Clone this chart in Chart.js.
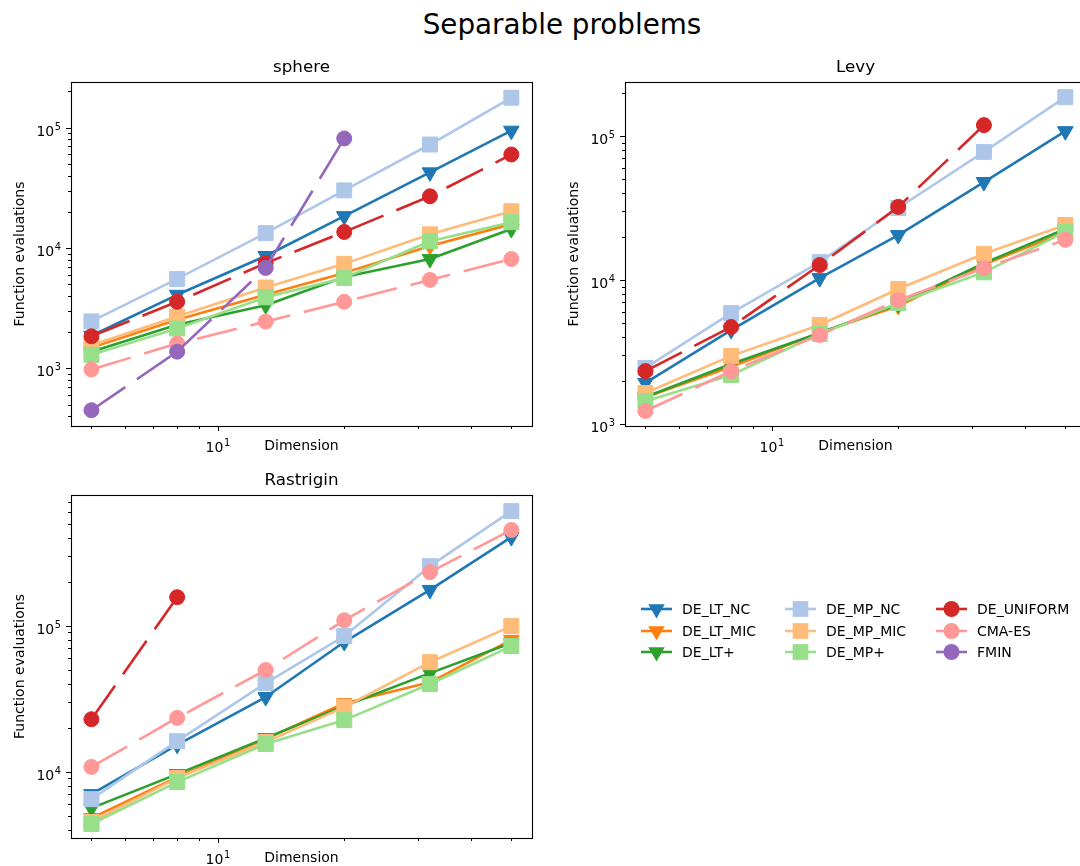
<!DOCTYPE html>
<html>
<head>
<meta charset="utf-8">
<script src="https://cdn.jsdelivr.net/npm/chart.js@4.4.1/dist/chart.umd.min.js"></script>
<style>
  html, body { margin: 0; padding: 0; background: #fff; }
  #fig { position: relative; width: 1080px; height: 866px; overflow: hidden; background: #fff; }
  #fig canvas { position: absolute; }
  #suptitle {
    position: absolute; left: 562px; top: 11px; transform: translateX(-50%);
    font: 27.8px "DejaVu Sans", sans-serif; line-height: 1; white-space: nowrap; color: #000;
  }
</style>
</head>
<body>
<div id="fig">
  <div id="suptitle">Separable problems</div>
  <canvas id="sphere" width="540" height="414" style="left:0;top:52px"></canvas>
  <canvas id="levy" width="540" height="414" style="left:554px;top:52px"></canvas>
  <canvas id="rastrigin" width="1080" height="413" style="left:0;top:465px"></canvas>
</div>
<script>
// x values (problem dimension)
const dims = [5, 8, 13, 20, 32, 50];
const methods = ["DE_LT_NC", "DE_LT_MIC", "DE_LT+", "DE_MP_NC", "DE_MP_MIC", "DE_MP+", "DE_UNIFORM", "CMA-ES", "FMIN"];

// sphere
const sphereLtNc = [1870, 4090, 8590, 18400, 42500, 94300];
const sphereLtMic = [1490, 2540, 4090, 6220, 10400, 15800];
const sphereLtPlus = [1380, 2310, 3350, 5760, 8100, 14400];
const sphereMpNc = [2460, 5540, 13300, 30100, 72400, 177000];
const sphereMpMic = [1560, 2700, 4700, 7390, 13000, 20200];
const sphereMpPlus = [1300, 2150, 3900, 5650, 11400, 16400];
const sphereUniform = [1850, 3580, 7500, 13600, 26900, 59800];
const sphereCma = [981, 1610, 2450, 3580, 5440, 8120];
const sphereFmin = [450, 1380, 6840, 81300];

// Levy
const levyLtNc = [1930, 4490, 10300, 20500, 47900, 108000];
const levyLtMic = [1530, 2500, 4300, 6600, 12800, 21500];
const levyLtPlus = [1540, 2610, 4290, 6820, 13100, 22600];
const levyMpNc = [2450, 5890, 13300, 31600, 77500, 186000];
const levyMpMic = [1640, 2970, 4870, 8660, 15200, 24100];
const levyMpPlus = [1440, 2190, 4220, 6920, 11300, 21600];
const levyUniform = [2330, 4720, 12700, 32200, 119000];
const levyCma = [1230, 2330, 4150, 7240, 12100, 19000];
const levyFmin = [];

// Rastrigin
const rastLtNc = [7030, 15300, 32500, 77400, 176000, 405000];
const rastLtMic = [4820, 9200, 16800, 29500, 41000, 80000];
const rastLtPlus = [5640, 9640, 17000, 28200, 47400, 76200];
const rastMpNc = [6500, 16200, 40500, 85000, 256000, 610000];
const rastMpMic = [4530, 9060, 16000, 27700, 56300, 99500];
const rastMpPlus = [4390, 8500, 15500, 22600, 39900, 72600];
const rastUniform = [22900, 157000];
const rastCma = [10800, 23400, 49800, 109000, 233000, 453000];
const rastFmin = [];

// tick labels (powers of ten)
const xTickValues = [10];
const yTickValues = [1e3, 1e4, 1e5];

const FONT = "'DejaVu Sans', sans-serif";
Chart.defaults.font.family = FONT;
Chart.defaults.color = "#000";

const DASH = [41, 14];
const styles = [
  { color: "#1f77b4", shape: "triangle", dash: [] },
  { color: "#ff7f0e", shape: "triangle", dash: [] },
  { color: "#2ca02c", shape: "triangle", dash: [] },
  { color: "#aec7e8", shape: "rect", dash: [] },
  { color: "#ffbb78", shape: "rect", dash: [] },
  { color: "#98df8a", shape: "rect", dash: [] },
  { color: "#d62728", shape: "circle", dash: DASH },
  { color: "#ff9896", shape: "circle", dash: DASH },
  { color: "#9467bd", shape: "circle", dash: DASH },
];
const RADIUS = { triangle: 9, rect: 10.6, circle: 7.5 };

function makeSets(series) {
  return series.map((vals, i) => {
    const st = styles[i];
    return {
      label: methods[i],
      data: vals.map((v, k) => ({ x: dims[k], y: v })),
      borderColor: st.color,
      backgroundColor: st.color,
      borderWidth: 2.6,
      borderDash: st.dash,
      borderJoinStyle: "round",
      pointStyle: st.shape,
      pointRotation: st.shape === "triangle" ? 180 : 0,
      pointRadius: RADIUS[st.shape],
      pointHoverRadius: RADIUS[st.shape],
      pointBorderWidth: 1,
      pointBorderColor: st.color,
      pointBackgroundColor: st.color,
      tension: 0,
      fill: false,
      order: 20 - i,
    };
  });
}

function logTicks(min, max) {
  const out = [];
  for (let e = Math.floor(Math.log10(min)); e <= Math.ceil(Math.log10(max)); e++) {
    for (let m = 1; m < 10; m++) {
      const v = m * Math.pow(10, e);
      if (v >= min && v <= max) out.push({ v, major: m === 1 });
    }
  }
  return out;
}

// "10" with a raised exponent, right edge or centre at x
function powText(ctx, v, x, base, align) {
  const e = String(Math.round(Math.log10(v)));
  ctx.font = "14px " + FONT;
  const wBase = ctx.measureText("10").width;
  ctx.font = "9.8px " + FONT;
  const wExp = ctx.measureText(e).width;
  const w = wBase + wExp + 0.5;
  const x0 = align === "right" ? x - w : x - w / 2;
  ctx.font = "14px " + FONT;
  ctx.fillText("10", x0, base);
  ctx.font = "9.8px " + FONT;
  ctx.fillText(e, x0 + wBase + 0.5, base - 6);
}

// box around the axes, major/minor tick marks and tick labels, matplotlib style
const axesFrame = {
  id: "axesFrame",
  afterDraw(chart) {
    const { ctx, chartArea: a, scales: { x, y } } = chart;
    ctx.save();
    ctx.strokeStyle = "#000";
    ctx.fillStyle = "#000";
    ctx.setLineDash([]);
    ctx.lineWidth = 1;
    logTicks(x.min, x.max).forEach(t => {
      const px = Math.round(x.getPixelForValue(t.v)) + 0.5;
      ctx.beginPath();
      ctx.moveTo(px, a.bottom);
      ctx.lineTo(px, a.bottom + (t.major ? 5 : 3));
      ctx.stroke();
    });
    logTicks(y.min, y.max).forEach(t => {
      const py = Math.round(y.getPixelForValue(t.v)) + 0.5;
      ctx.beginPath();
      ctx.moveTo(a.left, py);
      ctx.lineTo(a.left - (t.major ? 5 : 3), py);
      ctx.stroke();
    });
    ctx.lineWidth = 1.1;
    ctx.strokeRect(Math.round(a.left) + 0.5, Math.round(a.top) + 0.5,
      Math.round(a.right - a.left), Math.round(a.bottom - a.top));

    ctx.textBaseline = "alphabetic";
    ctx.textAlign = "left";
    xTickValues.filter(v => v >= x.min && v <= x.max).forEach(v => {
      powText(ctx, v, x.getPixelForValue(v), a.bottom + 25.5, "center");
    });
    yTickValues.filter(v => v >= y.min && v <= y.max).forEach(v => {
      powText(ctx, v, a.left - 10, y.getPixelForValue(v) + 8, "right");
    });
    ctx.restore();
  }
};

function drawMarker(ctx, shape, r, x, y) {
  ctx.beginPath();
  if (shape === "circle") {
    ctx.arc(x, y, r, 0, Math.PI * 2);
  } else if (shape === "rect") {
    const s = r * Math.SQRT1_2;
    ctx.rect(x - s, y - s, 2 * s, 2 * s);
  } else {
    ctx.moveTo(x, y + r);
    ctx.lineTo(x - r * Math.sqrt(3) / 2, y - r / 2);
    ctx.lineTo(x + r * Math.sqrt(3) / 2, y - r / 2);
    ctx.closePath();
  }
  ctx.fill();
}

// legend in the empty fourth panel, 3 columns
const sideLegend = {
  id: "sideLegend",
  afterDraw(chart, args, opts) {
    const ctx = chart.ctx;
    ctx.save();
    ctx.font = "14px " + FONT;
    ctx.textBaseline = "middle";
    ctx.textAlign = "left";
    chart.data.datasets.forEach((ds, i) => {
      const x0 = opts.colX[Math.floor(i / 3)];
      const y0 = opts.rowY[i % 3];
      const st = styles[i];
      ctx.strokeStyle = st.color;
      ctx.fillStyle = st.color;
      ctx.lineWidth = 2.6;
      ctx.beginPath();
      ctx.moveTo(x0, y0);
      ctx.lineTo(x0 + 31, y0);
      ctx.stroke();
      drawMarker(ctx, st.shape, RADIUS[st.shape] + 0.5, x0 + 15.5, y0);
      ctx.fillStyle = "#000";
      ctx.fillText(ds.label, x0 + 41, y0 + 1);
    });
    ctx.restore();
  }
};

function noPad(s) {
  s.paddingLeft = 0; s.paddingRight = 0; s.paddingTop = 0; s.paddingBottom = 0;
}

function makeChart(id, title, series, yMin, yMax, padRight, withLegend) {
  const labelFont = { family: FONT, size: 14 };
  return new Chart(document.getElementById(id), {
    type: "line",
    data: { datasets: makeSets(series) },
    options: {
      responsive: false,
      animation: false,
      devicePixelRatio: 1,
      layout: { autoPadding: false, padding: { left: 0, right: padRight, top: 0, bottom: 0 } },
      plugins: {
        legend: { display: false },
        tooltip: { enabled: false },
        title: {
          display: true, text: title, fullSize: false, color: "#000",
          font: { family: FONT, size: 16.7, weight: "normal" },
          padding: { top: 6, bottom: 4 },
        },
        sideLegend: { colX: [641, 785, 936], rowY: [144, 166, 187] },
      },
      scales: {
        x: {
          type: "logarithmic",
          min: 4.47, max: 56.0,
          afterFit: s => { s.height = 40; noPad(s); },
          ticks: { display: false },
          grid: { display: false, drawTicks: false },
          border: { display: false },
          title: { display: true, text: "Dimension", font: labelFont, color: "#000", padding: { top: 0, bottom: 11 } },
        },
        y: {
          type: "logarithmic",
          min: yMin, max: yMax,
          afterFit: s => { s.width = 71; noPad(s); },
          ticks: { display: false },
          grid: { display: false, drawTicks: false },
          border: { display: false },
          title: { display: true, text: "Function evaluations", font: labelFont, color: "#000", padding: { top: 12, bottom: 0 } },
        },
      },
    },
    plugins: withLegend ? [axesFrame, sideLegend] : [axesFrame],
  });
}

makeChart("sphere", "sphere",
  [sphereLtNc, sphereLtMic, sphereLtPlus, sphereMpNc, sphereMpMic, sphereMpPlus, sphereUniform, sphereCma, sphereFmin],
  333, 239000, 8, false);
makeChart("levy", "Levy",
  [levyLtNc, levyLtMic, levyLtPlus, levyMpNc, levyMpMic, levyMpPlus, levyUniform, levyCma, levyFmin],
  968, 237000, 8, false);
makeChart("rastrigin", "Rastrigin",
  [rastLtNc, rastLtMic, rastLtPlus, rastMpNc, rastMpMic, rastMpPlus, rastUniform, rastCma, rastFmin],
  3520, 786000, 548, true);
</script>
</body>
</html>
